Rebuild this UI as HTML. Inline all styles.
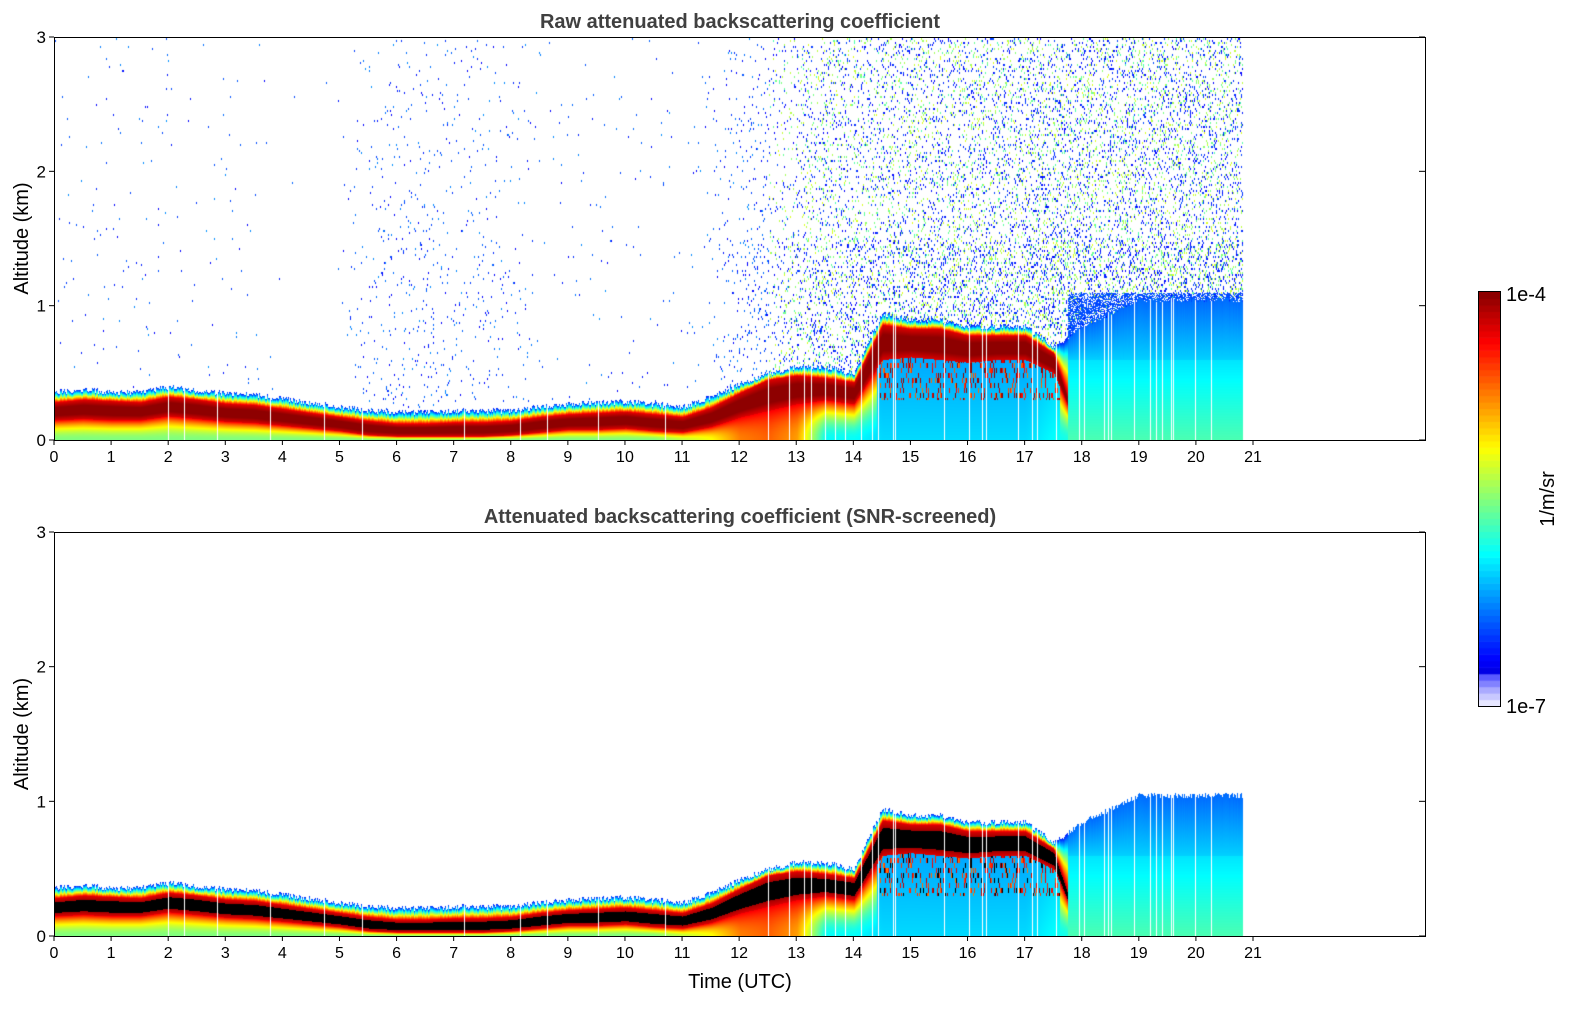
<!DOCTYPE html>
<html><head><meta charset="utf-8"><style>
body{margin:0;background:#fff;width:1595px;height:1020px;overflow:hidden;font-family:"Liberation Sans","DejaVu Sans",sans-serif}
canvas{position:absolute}
svg{position:absolute;left:0;top:0}
</style></head><body>
<canvas id="c1" style="left:55px;top:38px" width="1370" height="402"></canvas>
<canvas id="c2" style="left:55px;top:533px" width="1370" height="403"></canvas>
<canvas id="cb" style="left:1479px;top:292px" width="21" height="414"></canvas>
<svg id="ax" width="1595" height="1020"></svg>
<script>
// data (half-hour resolution)
const hours=[0,0.5,1,1.5,2,2.5,3,3.5,4,4.5,5,5.5,6,6.5,7,7.5,8,8.5,9,9.5,10,10.5,11,11.5,12,12.5,13,13.5,14,14.5,15,15.5,16,16.5,17,17.5,18,18.5,19,19.5,20,20.5,20.8];
const layerTop=[0.36,0.38,0.36,0.36,0.4,0.37,0.35,0.34,0.31,0.28,0.25,0.22,0.21,0.21,0.22,0.22,0.22,0.25,0.27,0.28,0.29,0.27,0.25,0.32,0.42,0.5,0.55,0.55,0.5,0.95,0.9,0.9,0.85,0.85,0.85,0.7,0.85,0.95,1.05,1.05,1.05,1.05,1.05];
const redLow=[0.15,0.16,0.15,0.15,0.18,0.16,0.14,0.13,0.11,0.09,0.07,0.04,0.03,0.03,0.03,0.03,0.04,0.06,0.08,0.08,0.09,0.07,0.06,0.1,0.17,0.22,0.27,0.3,0.27,0.6,0.62,0.6,0.58,0.6,0.6,0.5,0,0,0,0,0,0,0];
const redHigh=[0.28,0.3,0.29,0.28,0.32,0.3,0.27,0.26,0.23,0.2,0.17,0.14,0.12,0.12,0.13,0.13,0.14,0.17,0.19,0.2,0.21,0.19,0.17,0.24,0.35,0.45,0.48,0.46,0.43,0.86,0.83,0.83,0.78,0.78,0.78,0.65,0,0,0,0,0,0,0];
const baseVal=[0.5,0.5,0.5,0.5,0.5,0.5,0.5,0.5,0.5,0.5,0.5,0.5,0.5,0.5,0.5,0.5,0.5,0.5,0.5,0.5,0.5,0.5,0.56,0.62,0.75,0.78,0.72,0.38,0.38,0.34,0.34,0.34,0.34,0.34,0.34,0.38,0.42,0.42,0.42,0.42,0.42,0.42,0.42];
const isHaze=[0,0,0,0,0,0,0,0,0,0,0,0,0,0,0,0,0,0,0,0,0,0,0,0,0,0,0,0,0,0,0,0,0,0,0,0,1,1,1,1,1,1,1];
const noiseDensity=[0.004,0.004,0.004,0.004,0.006,0.004,0.004,0.003,0.001,0,0.002,0.02,0.025,0.025,0.02,0.02,0.015,0.004,0.004,0.004,0.004,0.004,0.004,0.01,0.04,0.06,0.1,0.14,0.14,0.16,0.16,0.16,0.18,0.18,0.18,0.2,0.2,0.2,0.2,0.2,0.2,0.2,0.2];
const xTicks=[0,1,2,3,4,5,6,7,8,9,10,11,12,13,14,15,16,17,18,19,20,21];
const yTicks=[0,1,2,3];

const X0=54,X1=1425;
const sx=h=>X0+h*(1199/21);
function jet(v){v=Math.max(0,Math.min(1,v));
 const r=Math.max(0,Math.min(1,1.5-Math.abs(4*v-3))),g=Math.max(0,Math.min(1,1.5-Math.abs(4*v-2))),b=Math.max(0,Math.min(1,1.5-Math.abs(4*v-1)));
 return [r*255|0,g*255|0,b*255|0];}
function idxOf(t){let i=0;while(i<hours.length-2&&hours[i+1]<t)i++;return i;}
function interp(arr,t){const i=idxOf(t);const f=(t-hours[i])/(hours[i+1]-hours[i]);return arr[i]+(arr[i+1]-arr[i])*Math.max(0,Math.min(1,f));}
function nearest(arr,t){const i=idxOf(t);return (t-hours[i])<(hours[i+1]-hours[i])/2?arr[i]:arr[i+1];}
function hash(a,b){let h=(a*374761393+b*668265263)|0;h=(h^(h>>>13))*1274126177|0;return ((h^(h>>>16))>>>0)/4294967296;}
function draw(id,screened){
 const cv=document.getElementById(id),ctx=cv.getContext('2d'),W=cv.width,H=cv.height;
 const img=ctx.createImageData(W,H),d=img.data;
 for(let x=0;x<W;x++){
  const t=(x+0.5)/(1199/21);
  if(t>hours[hours.length-1])continue;
  const top=interp(layerTop,t),lo=interp(redLow,t),hi=interp(redHigh,t),bv=interp(baseVal,t),hz=nearest(isHaze,t),nd=interp(noiseDensity,t);
  const jit=(hash(x,7)-0.5)*0.04;
  const white=(t>13&&hash(x,3)<0.05)||hash(x,11)<0.008;
  const cloud=t>14.4&&t<17.6;
  for(let y=0;y<H;y++){
   const z=(H-y)/H*3; let v=null;
   const tp=top+jit;
   if(!hz){
    if(cloud){
     if(z<=lo)v=bv-0.05*(z/lo);
     else if(z<=hi)v=1.05-0.14*Math.abs(2*(z-lo)/(hi-lo)-1);
     else if(z<=tp)v=0.9-(0.75)*((z-hi)/(tp-hi));
     if(z>0.3&&z<lo&&hash(x,(y/5)|0)<0.22)v=0.75+0.3*hash((y/5)|0,x);
    }else{
     if(z<=lo)v=bv+(0.88-bv)*Math.pow(z/lo,2);
     else if(z<=hi)v=1.05-0.14*Math.abs(2*(z-lo)/(hi-lo)-1);
     else if(z<=tp)v=0.92-(0.92-0.15)*((z-hi)/(tp-hi));
    }
   }else{
    if(z<=0.6)v=0.45-0.1*(z/0.6);
    else if(z<=tp)v=0.33-0.1*((z-0.6)/(tp-0.6));
    if(!screened&&z>tp&&z<1.1&&hash(x,y)<0.6)v=0.2;
   }
   if(v===null&&!screened){
    const r=hash(x*3+1,((y/2)|0)*7+5);
    if(r<nd*(z<1.5?1.2:0.8)){
     const s=hash(((y/2)|0),x);
     v=(t>12.5&&s>0.55)?0.25+s*0.35:0.12+s*0.15;
    }
   }
   if(v===null)continue;
   if(white&&z<tp)continue;
   let c; if(screened&&v>0.965)c=[0,0,0]; else c=(v<0.14?[0,0,255]:jet(Math.min(v,0.985)));
   const k=(y*W+x)*4;d[k]=c[0];d[k+1]=c[1];d[k+2]=c[2];d[k+3]=255;
  }
 }
 ctx.putImageData(img,0,0);
}
draw('c1',false);draw('c2',true);
(function(){const c=document.getElementById('cb').getContext('2d');const n=64,h=414/n;
 for(let i=0;i<n;i++){const f=i/(n-1);let col;
  if(i<5){const l=[230,200,170,130,90][i];col=[l,l,255];}
  else{const v=0.1+(f-5/63)/(58/63)*0.9*0.985;col=jet(v);}
  c.fillStyle=`rgb(${col})`;c.fillRect(0,414-(i+1)*h,21,h+0.6);}
})();
const NS='http://www.w3.org/2000/svg',svg=document.getElementById('ax');
function el(tag,attrs,txt){const e=document.createElementNS(NS,tag);for(const k in attrs)e.setAttribute(k,attrs[k]);if(txt!==undefined)e.textContent=txt;svg.appendChild(e);return e;}
function panel(top,bot,title,pname){
 const sy=z=>bot-z*(bot-top)/3;
 const r=el('rect',{x:X0+0.5,y:top+0.5,width:X1-X0,height:bot-top,fill:'none',stroke:'#000','stroke-width':1});
 
 const tt=el('text',{x:740,y:top-9,'text-anchor':'middle','font-size':20,'font-weight':'bold',fill:'#404040'},title);
 
 xTicks.forEach(h=>{const x=sx(h);el('line',{x1:x,x2:x,y1:bot,y2:bot+5,stroke:'#000'});
  const t=el('text',{x:x,y:bot+22,'text-anchor':'middle','font-size':16},String(h));
  });
 yTicks.forEach(z=>{const y=sy(z);el('line',{x1:X0-5,x2:X0,y1:y,y2:y,stroke:'#000'});el('line',{x1:X1-6,x2:X1,y1:y,y2:y,stroke:'#000'});
  const t=el('text',{x:X0-8,y:y+6,'text-anchor':'end','font-size':17},String(z));
  });
 const yl=el('text',{x:28,y:(top+bot)/2,'text-anchor':'middle','font-size':20,transform:`rotate(-90 28 ${(top+bot)/2})`},'Altitude (km)');
 
}
panel(37,440,'Raw attenuated backscattering coefficient','raw-panel');
panel(532,936,'Attenuated backscattering coefficient (SNR-screened)','screened-panel');
const xl=el('text',{x:740,y:988,'text-anchor':'middle','font-size':20},'Time (UTC)');

const cbf=el('rect',{x:1478.5,y:291.5,width:22,height:415,fill:'none',stroke:'#000'});

const c1=el('text',{x:1506,y:301,'font-size':20},'1e-4');
const c2=el('text',{x:1506,y:713,'font-size':20},'1e-7');
const cu=el('text',{x:1554,y:499,'text-anchor':'middle','font-size':20,transform:'rotate(-90 1554 499)'},'1/m/sr');

</script>
</body></html>
